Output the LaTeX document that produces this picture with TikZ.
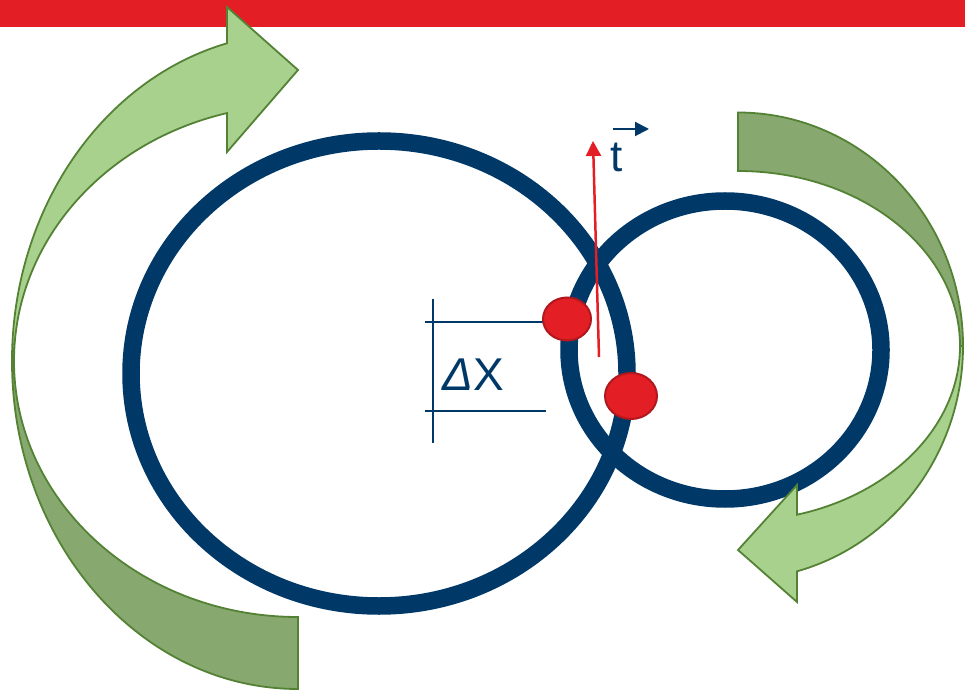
\documentclass[tikz,border=0pt]{standalone}
\usepackage{fontspec}
\setmainfont{Liberation Sans}
\usetikzlibrary{arrows.meta}
\definecolor{navy}{RGB}{0,56,104}
\definecolor{barred}{RGB}{227,30,36}
\definecolor{dotedge}{RGB}{176,24,30}
\definecolor{lightgreen}{RGB}{169,209,142}
\definecolor{darkgreen}{RGB}{135,168,110}
\definecolor{greenedge}{RGB}{84,130,53}
\begin{document}
\begin{tikzpicture}[x=1pt,y=1pt,
  ring/.style={draw=navy,line width=17.5pt},
  bandfront/.style={fill=lightgreen,draw=greenedge,line width=1.8pt,line join=miter},
  bandback/.style={fill=darkgreen,draw=greenedge,line width=1.8pt,line join=miter},
  dimline/.style={draw=navy,line width=1.2pt},
  reddot/.style={fill=barred,draw=dotedge,line width=2pt},
  lbl/.style={text=navy,inner sep=0pt}]
\useasboundingbox (0,0) rectangle (965,691);
% top bar
\fill[barred] (0,664) rectangle (965,691);
% circles
\coordinate (bigc) at (379,317.5);
\coordinate (smallc) at (725,341);
\draw[ring] (bigc) ellipse [x radius=248, y radius=232.5];
\draw[ring] (smallc) ellipse [x radius=156, y radius=149];
% dimension lines
\coordinate (dv1) at (433,392);
\coordinate (dv2) at (433,248);
\coordinate (dh1a) at (425,369);
\coordinate (dh1b) at (547,369);
\coordinate (dh2a) at (425,280);
\coordinate (dh2b) at (546,280);
\draw[dimline] (dv1) -- (dv2);
\draw[dimline] (dh1a) -- (dh1b);
\draw[dimline] (dh2a) -- (dh2b);
\node[lbl,font=\fontsize{46}{50}\selectfont] (dx) at (473,316) {{\itshape Δ}X};
% red arrow
\coordinate (ra1) at (599,334);
\coordinate (ra2) at (593,550);
\draw[barred,line width=2.5pt,-{Triangle[length=15pt,width=15pt]}] (ra1) -- (ra2);
% t vector
\node[lbl,anchor=base west,font=\fontsize{44}{48}\selectfont] (t) at (610,519) {t};
\coordinate (ta1) at (613,562);
\coordinate (ta2) at (649,562);
\draw[navy,line width=2pt,-{Triangle[length=14pt,width=14pt]}] (ta1) -- (ta2);
% red dots
\draw[reddot] (567,372) ellipse [x radius=24, y radius=21.5];
\draw[reddot] (631,295) ellipse [x radius=26, y radius=23];
% left green arrow
\draw[bandback] (12,330) arc[start angle=180, end angle=270, x radius=286, y radius=328]
  -- (298,74) arc[start angle=270, end angle=180, x radius=284, y radius=256] -- cycle;
\draw[bandfront] (12,330) arc[start angle=180, end angle=104.38, x radius=286, y radius=328]
  -- (227,684) -- (298,621) -- (227,539) -- (227,577.9)
  arc[start angle=104.48, end angle=180, x radius=284, y radius=256] -- cycle;
% right green arrow
\draw[bandback] (738,578.5) arc[start angle=90, end angle=0, x radius=225, y radius=233.5]
  -- (960,345) arc[start angle=0, end angle=90, x radius=222, y radius=175] -- cycle;
\draw[bandfront] (963,345) arc[start angle=0, end angle=-74.8, x radius=225, y radius=233.5]
  -- (797,89) -- (738,141) -- (797,206) -- (797,176.3)
  arc[start angle=-74.59, end angle=0, x radius=222, y radius=175] -- cycle;
\end{tikzpicture}
\end{document}
